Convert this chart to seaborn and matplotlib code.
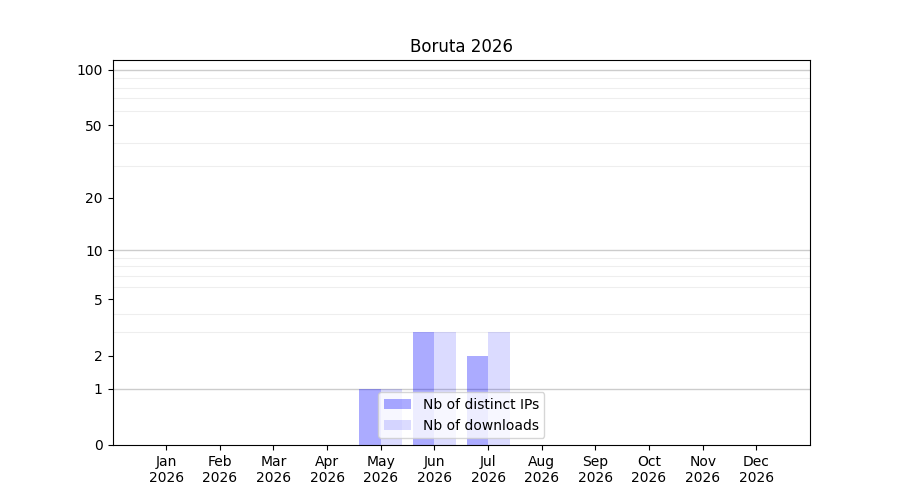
import numpy as np
import pandas as pd
import matplotlib
matplotlib.use("Agg")
import matplotlib.pyplot as plt
import seaborn as sns

months = ["Jan\n2026", "Feb\n2026", "Mar\n2026", "Apr\n2026", "May\n2026", "Jun\n2026",
          "Jul\n2026", "Aug\n2026", "Sep\n2026", "Oct\n2026", "Nov\n2026", "Dec\n2026"]
distinct_ips = [0, 0, 0, 0, 1, 3, 2, 0, 0, 0, 0, 0]
downloads = [0, 0, 0, 0, 1, 3, 3, 0, 0, 0, 0, 0]
series_names = ["Nb of distinct IPs", "Nb of downloads"]
yticks = [0, 1, 2, 5, 10, 20, 50, 100]
title = "Boruta 2026"

df = pd.DataFrame({
    "month": months * 2,
    "value": distinct_ips + downloads,
    "series": [series_names[0]] * len(months) + [series_names[1]] * len(months),
})

fig, ax = plt.subplots(figsize=(9, 5), dpi=100)

ax.set_yscale("function", functions=(lambda y: np.log10(1 + np.clip(y, 0, None)),
                                     lambda t: 10 ** t - 1))

palette = {series_names[0]: (0, 0, 1, 0.33), series_names[1]: (0, 0, 1, 0.14)}
sns.barplot(data=df, x="month", y="value", hue="series", order=months,
            hue_order=series_names, palette=palette, saturation=1, width=0.8,
            ax=ax, zorder=2)

ax.set_xlim(-1, 12)
ax.set_ylim(0, 113)
ax.set_yticks(yticks)
ax.set_yticklabels([str(v) for v in yticks])
minor = [v * 10 ** k for k in range(0, 3) for v in range(1, 10) if v * 10 ** k <= 100]
ax.set_yticks(minor, minor=True)
ax.tick_params(axis="y", which="minor", length=0)
ax.grid(False)
ax.grid(axis="y", which="minor", color="#eeeeee", linewidth=0.8, zorder=0)
for v in [1, 10, 100]:
    ax.axhline(v, color="#cccccc", linewidth=1, zorder=1)
ax.set_axisbelow(True)

ax.set_xlabel("")
ax.set_ylabel("")
ax.set_title(title)
handles, labels = ax.get_legend_handles_labels()
ax.legend(handles, labels, loc="lower center", title=None)

fig.savefig("out.png", dpi=100)
